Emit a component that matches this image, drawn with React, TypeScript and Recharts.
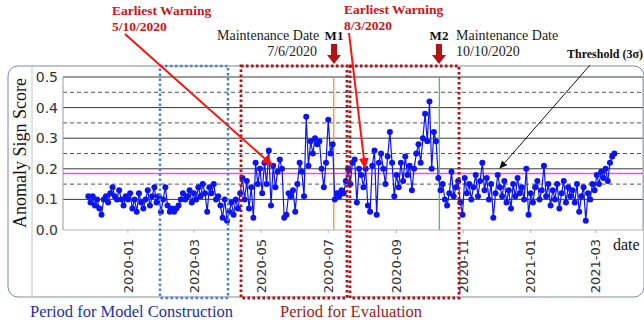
import {
  ComposedChart,
  Line,
  ReferenceLine,
  XAxis,
  YAxis,
} from "recharts";

// days counted from 2020-01-01, one reading every 2 days
const START_DAY = -36;
const STEP_DAYS = 2;

const SCORE = [
  0.11, 0.09, 0.11, 0.08, 0.10, 0.07, 0.05, 0.10, 0.11, 0.09,
  0.12, 0.14, 0.11, 0.10, 0.13, 0.10, 0.08, 0.11, 0.10, 0.12,
  0.07, 0.10, 0.06, 0.12, 0.09, 0.07, 0.10, 0.13, 0.08, 0.11,
  0.14, 0.09, 0.11, 0.06, 0.10, 0.14, 0.08, 0.06, 0.07, 0.06,
  0.07, 0.08, 0.10, 0.12, 0.10, 0.11, 0.13, 0.09, 0.12, 0.10,
  0.14, 0.11, 0.15, 0.12, 0.06, 0.14, 0.12, 0.15, 0.10, 0.11,
  0.08, 0.04, 0.10, 0.03, 0.06, 0.09, 0.05, 0.10, 0.07, 0.12,
  0.17, 0.10, 0.16, 0.07, 0.14, 0.04, 0.22, 0.15, 0.20, 0.12,
  0.22, 0.15, 0.26, 0.08, 0.21, 0.14, 0.19, 0.23, 0.20, 0.04,
  0.05, 0.12, 0.11, 0.13, 0.06, 0.15, 0.22, 0.19, 0.11, 0.37,
  0.21, 0.29, 0.25, 0.30, 0.28, 0.29, 0.20, 0.14, 0.22, 0.36,
  0.25, 0.28, 0.10, 0.12, 0.11, 0.13, 0.12, 0.16, 0.20, 0.15,
  0.22, 0.23, 0.09, 0.20, 0.18, 0.14, 0.20, 0.08, 0.06, 0.21,
  0.26, 0.05, 0.22, 0.25, 0.20, 0.15, 0.24, 0.32, 0.22, 0.11,
  0.18, 0.14, 0.22, 0.16, 0.24, 0.18, 0.21, 0.13, 0.20, 0.25,
  0.28, 0.22, 0.30, 0.38, 0.29, 0.42, 0.20, 0.32, 0.29, 0.17,
  0.13, 0.15, 0.10, 0.08, 0.12, 0.19, 0.11, 0.14, 0.16, 0.09,
  0.05, 0.17, 0.12, 0.15, 0.10, 0.14, 0.18, 0.11, 0.16, 0.22,
  0.13, 0.17, 0.10, 0.15, 0.04, 0.12, 0.18, 0.14, 0.11, 0.16,
  0.09, 0.13, 0.07, 0.15, 0.11, 0.17, 0.12, 0.14, 0.10, 0.20,
  0.05, 0.12, 0.09, 0.14, 0.16, 0.10, 0.13, 0.21, 0.11, 0.15,
  0.08, 0.13, 0.10, 0.15, 0.07, 0.12, 0.16, 0.09, 0.14, 0.11,
  0.13, 0.09, 0.15, 0.06, 0.11, 0.14, 0.03, 0.12, 0.10, 0.15,
  0.13, 0.18, 0.15, 0.19, 0.17, 0.20, 0.16, 0.22, 0.24, 0.25,
];

const TICK_DAYS = [0, 60, 121, 182, 244, 305, 366, 425];
const TICK_LABELS = ["2020-01", "2020-03", "2020-05", "2020-07", "2020-09", "2020-11", "2021-01", "2021-03"];

const SOLID_GRID = [0.1, 0.2, 0.3, 0.4, 0.5];
const DASHED_GRID = [0.15, 0.25, 0.35, 0.45];
const THRESHOLD = 0.185;
const M1_DAY = 187; // 2020-07-06
const M2_DAY = 283; // 2020-10-10

const data = SCORE.map((v, i) => ({ day: START_DAY + i * STEP_DAYS, score: v }));

const serif = "'Liberation Serif', 'Times New Roman', serif";
const sans = "'DejaVu Sans', sans-serif";

function DateTick(props: any) {
  const { x, y, payload } = props;
  const idx = TICK_DAYS.indexOf(payload.value);
  return (
    <text
      x={x}
      y={y + 4}
      transform={`rotate(-90, ${x}, ${y + 4})`}
      textAnchor="end"
      dy="0.36em"
      fontSize={13}
      fontFamily={sans}
      fill="#333"
    >
      {idx >= 0 ? TICK_LABELS[idx] : ""}
    </text>
  );
}

function MArrow({ cx }: { cx: number }) {
  return (
    <path
      d={`M${cx - 3},44 H${cx + 3} V55 H${cx + 7} L${cx},64 L${cx - 7},55 H${cx - 3} Z`}
      fill="#b01414"
    />
  );
}

export default function App() {
  return (
    <div style={{ position: "absolute", left: 0, top: 0, width: 644, height: 323, background: "#fff" }}>
      <svg width={644} height={323} style={{ position: "absolute", left: 0, top: 0 }}>
        <rect x={8} y={66} width={636} height={231} rx={10} fill="none" stroke="#7d8ca6" strokeWidth={1} />
        <line x1={32} y1={66} x2={32} y2={297} stroke="#c8c8c8" strokeWidth={1} />
      </svg>
      <div style={{ position: "absolute", left: 0, top: 0 }}>
        <ComposedChart width={644} height={323} data={data} margin={{ top: 77, right: 1, bottom: 33, left: 23 }}>
          <XAxis
            type="number"
            dataKey="day"
            domain={[-59, 468]}
            ticks={TICK_DAYS}
            tick={<DateTick />}
            height={60}
            stroke="#b5b5b5"
            tickSize={3}
            allowDataOverflow
          />
          <YAxis
            type="number"
            domain={[0, 0.5]}
            ticks={[0, 0.1, 0.2, 0.3, 0.4, 0.5]}
            tickFormatter={(v: number) => v.toFixed(1)}
            width={40}
            stroke="#999"
            tickLine={false}
            tickSize={3}
            tickMargin={2}
            tick={{ fontSize: 14, fontFamily: sans, fill: "#333" }}
          />
          {DASHED_GRID.map((g) => (
            <ReferenceLine key={`d${g}`} y={g} stroke="#555" strokeDasharray="4 3" strokeWidth={1} />
          ))}
          {SOLID_GRID.map((g) => (
            <ReferenceLine key={`s${g}`} y={g} stroke="#3a3a3a" strokeWidth={1} />
          ))}
          <ReferenceLine x={468} stroke="#999" />
          <ReferenceLine y={THRESHOLD} stroke="#ff44ff" strokeWidth={1.5} />
          <ReferenceLine x={M1_DAY} stroke="#ff9030" strokeWidth={1.3} />
          <ReferenceLine x={M2_DAY} stroke="#5cb85c" strokeWidth={1.3} />
          <Line
            type="linear"
            dataKey="score"
            stroke="#0a14f5"
            strokeWidth={1.2}
            dot={{ r: 3, fill: "#0a14f5", stroke: "none" }}
            isAnimationActive={false}
          />
        </ComposedChart>
      </div>
      <svg width={644} height={323} style={{ position: "absolute", left: 0, top: 0, pointerEvents: "none" }}>
        <defs>
          <marker id="redHead" markerUnits="userSpaceOnUse" markerWidth={11} markerHeight={10} refX={10} refY={5} orient="auto">
            <path d="M0,0 L11,5 L0,10 z" fill="#ff1010" />
          </marker>
          <marker id="blackHead" markerUnits="userSpaceOnUse" markerWidth={8} markerHeight={7} refX={7} refY={3.5} orient="auto">
            <path d="M0,0 L8,3.5 L0,7 z" fill="#111" />
          </marker>
        </defs>

        {/* periods */}
        <rect x={160} y={66} width={68} height={232} fill="none" stroke="#4a82c6" strokeWidth={2.5} strokeDasharray="2.5 2.5" />
        <rect x={241} y={66} width={106} height={232} fill="none" stroke="#b40f0f" strokeWidth={2.8} strokeDasharray="2.5 2.5" />
        <rect x={350} y={66} width={109} height={232} fill="none" stroke="#b40f0f" strokeWidth={2.8} strokeDasharray="2.5 2.5" />

        {/* warnings */}
        <line x1={125} y1={34} x2={272} y2={165} stroke="#ff1010" strokeWidth={2} markerEnd="url(#redHead)" />
        <line x1={349} y1={33} x2={365} y2={168} stroke="#ff1010" strokeWidth={2} markerEnd="url(#redHead)" />
        <line x1={590} y1={65} x2={500} y2={168} stroke="#111" strokeWidth={1} markerEnd="url(#blackHead)" />

        <g fontFamily={serif}>
          <text x={112} y={15} fontSize={13.5} fontWeight="bold" fill="#d01414">Earliest Warning</text>
          <text x={112} y={31} fontSize={13.5} fontWeight="bold" fill="#d01414">5/10/2020</text>
          <text x={344} y={14} fontSize={13.5} fontWeight="bold" fill="#d01414">Earliest Warning</text>
          <text x={344} y={30} fontSize={13.5} fontWeight="bold" fill="#d01414">8/3/2020</text>

          <text x={217} y={40} fontSize={14} fill="#222">Maintenance Date</text>
          <text x={317} y={56} fontSize={14} fill="#222" textAnchor="end">7/6/2020</text>
          <text x={456} y={40} fontSize={14} fill="#222">Maintenance Date</text>
          <text x={456} y={56} fontSize={14} fill="#222">10/10/2020</text>

          <text x={334} y={40} fontSize={13} fontWeight="bold" fill="#111" textAnchor="middle">M1</text>
          <text x={439} y={40} fontSize={13} fontWeight="bold" fill="#111" textAnchor="middle">M2</text>

          <text x={567} y={58} fontSize={12} fontWeight="bold" fill="#111">Threshold (3σ)</text>

          <text
            x={26}
            y={153}
            fontSize={18}
            fill="#111"
            textAnchor="middle"
            transform="rotate(-90, 26, 153)"
          >
            Anomaly Sign Score
          </text>
          <text x={613} y={250} fontSize={16} fill="#111">date</text>

          <text x={30} y={317} fontSize={16.5} fill="#2231a8">Period for Model Construction</text>
          <text x={280} y={317} fontSize={16.5} fill="#a51818">Period for Evaluation</text>
        </g>
        <MArrow cx={334} />
        <MArrow cx={439} />
      </svg>
    </div>
  );
}
